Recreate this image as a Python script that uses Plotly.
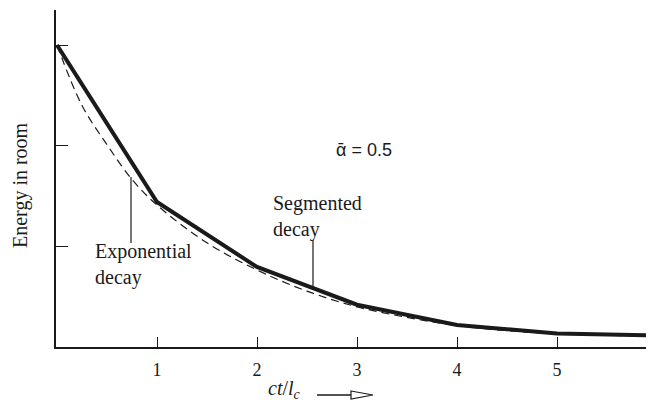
import plotly.graph_objects as go

# Data (ct/l_c vs energy, relative)
seg_x = [0, 1, 2, 3, 4, 5, 5.97]
seg_y = [1.0, 0.48, 0.265, 0.14, 0.073, 0.045, 0.038]

exp_x = [0, 0.25, 0.5, 0.75, 1.0, 1.5, 2.0, 2.5, 3.0, 3.5, 4.0, 4.5, 5.0, 5.5, 5.97]
exp_y = [1.0, 0.80, 0.67, 0.555, 0.47, 0.345, 0.255, 0.185, 0.133, 0.098, 0.071, 0.054, 0.044, 0.039, 0.036]

x_ticks = [1, 2, 3, 4, 5]
x_tick_labels = ["1", "2", "3", "4", "5"]
y_ticks = [1/3, 2/3, 1.0]

# the page body adds an 8px margin, so the figure is made 8px smaller
OFF = 8
W, H = 654 - OFF, 407 - OFF
L, R, T, B = 56 - OFF, 0, 10 - OFF, 60
PW, PH = W - L - R, H - T - B

def px(x):
    return (x - OFF - L) / PW

def py(y):
    return (H - B - (y - OFF)) / PH

SERIF = "Liberation Serif"
INK = "#1a1a1a"

fig = go.Figure()
fig.add_trace(go.Scatter(x=exp_x, y=exp_y, mode="lines", line=dict(color=INK, width=1.2, dash="8px,5px"),
                         line_shape="spline", hoverinfo="skip", showlegend=False))
fig.add_trace(go.Scatter(x=seg_x, y=seg_y, mode="lines", line=dict(color=INK, width=4),
                         hoverinfo="skip", showlegend=False))

annotations = [
    dict(text="Energy in room", xref="paper", yref="paper", x=px(20), y=py(185), textangle=-90,
         showarrow=False, font=dict(family=SERIF, size=20, color=INK), xanchor="center", yanchor="middle"),
    dict(text="Exponential<br>decay", xref="x", yref="y", x=0.36, y=0.36, align="left",
         showarrow=False, font=dict(family=SERIF, size=20, color=INK), xanchor="left", yanchor="top"),
    dict(text="Segmented<br>decay", xref="x", yref="y", x=2.14, y=0.52, align="left",
         showarrow=False, font=dict(family=SERIF, size=20, color=INK), xanchor="left", yanchor="top"),
    dict(text="ᾱ = 0.5", xref="x", yref="y", x=3.07, y=0.652,
         showarrow=False, font=dict(family="Liberation Sans", size=18, color=INK), xanchor="center", yanchor="middle"),
    dict(text="<i>ct</i>/<i>l<sub>c</sub></i>", xref="paper", yref="paper", x=px(284), y=py(389),
         showarrow=False, font=dict(family=SERIF, size=20, color=INK), xanchor="center", yanchor="middle"),
]

shapes = [
    # leader lines
    dict(type="line", xref="x", yref="y", x0=0.74, x1=0.74, y0=0.563, y1=0.344, line=dict(color=INK, width=1.2)),
    dict(type="line", xref="x", yref="y", x0=2.56, x1=2.56, y0=0.354, y1=0.199, line=dict(color=INK, width=1.2)),
    # arrow next to axis title
    dict(type="line", xref="paper", yref="paper", x0=px(317), x1=px(351), y0=py(395), y1=py(395),
         line=dict(color=INK, width=1.6)),
    dict(type="path", xref="paper", yref="paper",
         path=f"M {px(351)},{py(391)} L {px(373)},{py(395)} L {px(351)},{py(399)} Z",
         line=dict(color=INK, width=1.2), fillcolor="white"),
]

fig.update_layout(
    width=W, height=H, margin=dict(l=L, r=R, t=T, b=B),
    paper_bgcolor="white", plot_bgcolor="white",
    annotations=annotations, shapes=shapes,
    xaxis=dict(range=[-0.01, 5.97], tickvals=x_ticks, ticktext=x_tick_labels, ticks="inside", ticklen=10,
               tickwidth=1.3, tickcolor=INK, showline=True, linecolor=INK, linewidth=1.5, showgrid=False,
               zeroline=False, tickfont=dict(family=SERIF, size=18, color=INK), ticklabelstandoff=6),
    yaxis=dict(range=[0, 1.116], tickvals=y_ticks, showticklabels=False, ticks="inside", ticklen=12,
               tickwidth=1.3, tickcolor=INK, showline=True, linecolor=INK, linewidth=1.5, showgrid=False,
               zeroline=False),
)

fig.write_html("out.html")
